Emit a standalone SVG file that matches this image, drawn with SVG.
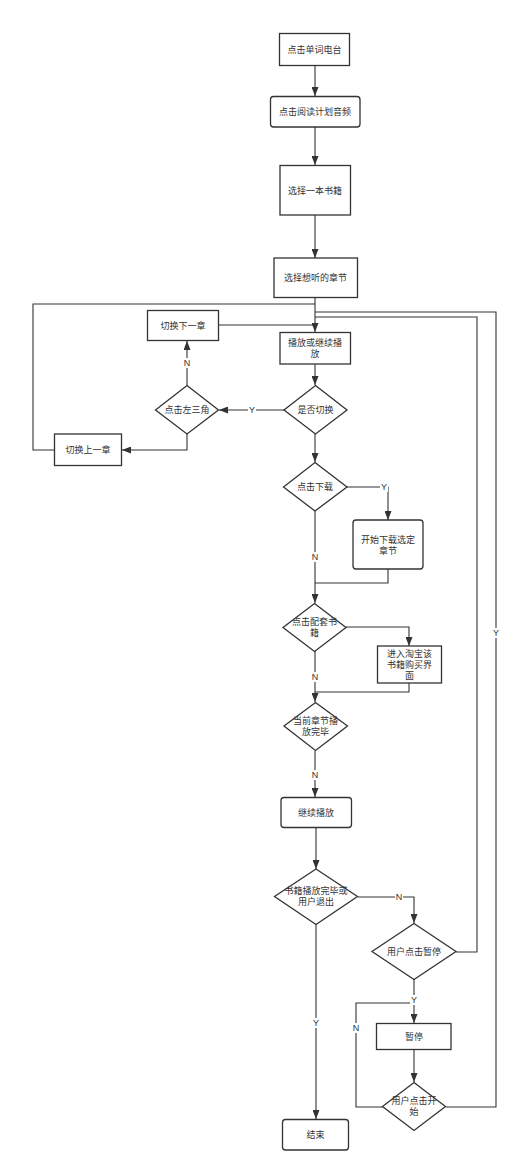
<svg xmlns="http://www.w3.org/2000/svg" width="518" height="1173" viewBox="0 0 518 1173">
<style>
.n rect,.n polygon{fill:#fff;stroke:#333;stroke-width:1.3}
text{font-family:"Liberation Sans","Noto Sans CJK SC",sans-serif;font-size:9px;fill:#333;text-anchor:middle;dominant-baseline:central}
.c path{fill:none;stroke:#333;stroke-width:1.1}
.a{marker-end:url(#ah)}
.lb{fill:#fff}
</style>
<defs>
<marker id="ah" markerUnits="userSpaceOnUse" markerWidth="9" markerHeight="7" refX="9" refY="3.5" orient="auto">
<path d="M0,0 L9,3.5 L0,7 z" fill="#333"/>
</marker>
</defs>
<rect width="518" height="1173" fill="#fff"/>
<g class="c" id="connectors">
<path class="a" d="M315,66 V96"/>
<path class="a" d="M315,127 V165"/>
<path class="a" d="M315,215 V258"/>
<path class="a" d="M315,297 V332"/>
<path d="M218,325 H315"/>
<path d="M54,450 H33 V304 H315"/>
<path d="M456,952 H477 V317 H315"/>
<path d="M446,1107 H496 V312 H315"/>
<path class="a" d="M315,364 V385"/>
<path class="a" d="M284,410 H219"/>
<path class="a" d="M187,385 V341"/>
<path class="a" d="M187,434 V450 H122"/>
<path class="a" d="M315,434 V462"/>
<path class="a" d="M347,487 H388 V520"/>
<path d="M388,569 V583 H315"/>
<path class="a" d="M315,511 V603"/>
<path class="a" d="M346,627 H409 V646"/>
<path d="M409,683 V692 H315"/>
<path class="a" d="M315,651 V702"/>
<path class="a" d="M315,751 V797"/>
<path class="a" d="M316,828 V869"/>
<path class="a" d="M358,897 H414 V923"/>
<path class="a" d="M414,979 V1023"/>
<path d="M383,1107 H356 V1003 H414"/>
<path class="a" d="M414,1049 V1082"/>
<path class="a" d="M316,924 V1119"/>
<g id="labels">
<rect class="lb" x="248" y="405" width="8" height="10"/><text x="252" y="410">Y</text>
<rect class="lb" x="183" y="358" width="8" height="10"/><text x="187" y="363">N</text>
<rect class="lb" x="380" y="482" width="8" height="10"/><text x="384" y="487">Y</text>
<rect class="lb" x="311" y="552" width="8" height="10"/><text x="315" y="557">N</text>
<rect class="lb" x="311" y="672" width="8" height="10"/><text x="315" y="677">N</text>
<rect class="lb" x="311" y="770" width="8" height="10"/><text x="315" y="775">N</text>
<rect class="lb" x="395" y="892" width="8" height="10"/><text x="399" y="897">N</text>
<rect class="lb" x="410" y="995" width="8" height="10"/><text x="414" y="1000">Y</text>
<rect class="lb" x="352" y="1023" width="8" height="10"/><text x="356" y="1028">N</text>
<rect class="lb" x="312" y="1018" width="8" height="10"/><text x="316" y="1023">Y</text>
<rect class="lb" x="492" y="628" width="8" height="10"/><text x="496" y="633">Y</text>
</g>
</g>
<g class="n" id="n1"><rect x="279.5" y="33.5" width="70" height="32"/><text x="314.5" y="50">点击单词电台</text></g>
<g class="n" id="n2"><rect x="270.5" y="96.5" width="89.5" height="30.5" rx="3"/><text x="315" y="112">点击阅读计划音频</text></g>
<g class="n" id="n3"><rect x="280" y="165.5" width="70.5" height="49.5"/><text x="315" y="190.5">选择一本书籍</text></g>
<g class="n" id="n4"><rect x="274" y="258" width="83.5" height="39.5"/><text x="315.5" y="278">选择想听的章节</text></g>
<g class="n" id="n5"><rect x="280" y="332.5" width="70.5" height="31.5"/><text x="315" y="343">播放或继续播</text><text x="315" y="354">放</text></g>
<g class="n" id="n6"><rect x="147.5" y="310.5" width="71" height="30"/><text x="183" y="325.5">切换下一章</text></g>
<g class="n" id="n7"><rect x="54.5" y="434" width="67" height="31.5"/><text x="88" y="450">切换上一章</text></g>
<g class="n" id="n8"><polygon points="315.5,385.5 347,410 315.5,434 284,410"/><text x="315.5" y="410">是否切换</text></g>
<g class="n" id="n9"><polygon points="187,385.5 218.5,410 187,434 155.5,410"/><text x="187" y="410">点击左三角</text></g>
<g class="n" id="n10"><polygon points="315,462.5 347,487 315,511 283.5,487"/><text x="315" y="487">点击下载</text></g>
<g class="n" id="n11"><rect x="353" y="520" width="70" height="49" rx="3"/><text x="388" y="540">开始下载选定</text><text x="388" y="551">章节</text></g>
<g class="n" id="n12"><polygon points="314.5,603.5 346,627.5 314.5,651.5 283,627.5"/><text x="314.5" y="622">点击配套书</text><text x="314.5" y="633">籍</text></g>
<g class="n" id="n13"><rect x="377.5" y="646" width="64" height="37"/><text x="409.5" y="653.5">进入淘宝该</text><text x="409.5" y="664.5">书籍购买界</text><text x="409.5" y="675.5">面</text></g>
<g class="n" id="n14"><polygon points="315.5,702.5 347.5,726 315.5,750.5 284,726"/><text x="315.5" y="720.5">当前章节播</text><text x="315.5" y="731.5">放完毕</text></g>
<g class="n" id="n15"><rect x="281" y="797.5" width="70.5" height="30" rx="3"/><text x="316" y="813">继续播放</text></g>
<g class="n" id="n16"><polygon points="316,869 357.5,896.5 316,924.5 274.5,896.5"/><text x="316" y="891">书籍播放完毕或</text><text x="316" y="902">用户退出</text></g>
<g class="n" id="n17"><polygon points="414,923.5 456,951.5 414,979.5 372,951.5"/><text x="414" y="952">用户点击暂停</text></g>
<g class="n" id="n18"><rect x="376.5" y="1023.5" width="74.5" height="26"/><text x="414" y="1036.5">暂停</text></g>
<g class="n" id="n19"><polygon points="414,1082.5 445.5,1106.5 414,1130.5 382.5,1106.5"/><text x="414" y="1101">用户点击开</text><text x="414" y="1112">始</text></g>
<g class="n" id="n20"><rect x="282.5" y="1119.5" width="66" height="30.5" rx="3"/><text x="315.5" y="1135">结束</text></g>
</svg>
